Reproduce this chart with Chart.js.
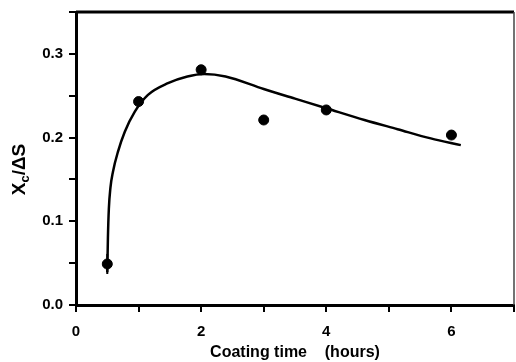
<!DOCTYPE html>
<html>
<head>
<meta charset="utf-8">
<script src="https://cdn.jsdelivr.net/npm/chart.js@4"></script>
<style>
  html, body { margin: 0; padding: 0; background: #fff; }
  #wrap { width: 516px; height: 362px; }
</style>
</head>
<body>
<div id="wrap"><canvas id="chart" width="516" height="362"></canvas></div>
<script>
// measured points
const timeHours = [0.5, 1, 2, 3, 4, 6];
const ratioValues = [0.049, 0.243, 0.281, 0.221, 0.233, 0.203];
const ratioErrors = [0.012, 0, 0, 0, 0, 0];

// fitted curve
const fitHours = [0.5, 0.51, 0.525, 0.55, 0.59, 0.67, 0.78, 0.94, 1.15, 1.47, 1.78, 2.05, 2.39, 3.0, 3.5, 4.0, 4.61, 5.14, 5.67, 6.15];
const fitValues = [0.039, 0.08, 0.115, 0.14, 0.159, 0.183, 0.207, 0.231, 0.251, 0.265, 0.273, 0.276, 0.273, 0.258, 0.2465, 0.235, 0.221, 0.210, 0.199, 0.191];

const xTitle = 'Coating time    (hours)';
const fontFamily = '"Liberation Sans", Arial, sans-serif';

const ctx = document.getElementById('chart');

// error bars, frame and the y title (needs a subscript)
const extras = {
  id: 'extras',
  afterDatasetsDraw(chart) {
    const c = chart.ctx;
    const xs = chart.scales.x;
    const ys = chart.scales.y;
    c.save();
    c.strokeStyle = '#000';
    c.lineWidth = 2;
    timeHours.forEach((t, i) => {
      if (!ratioErrors[i]) return;
      const px = xs.getPixelForValue(t);
      c.beginPath();
      c.moveTo(px, ys.getPixelForValue(ratioValues[i] - ratioErrors[i]));
      c.lineTo(px, ys.getPixelForValue(ratioValues[i] + ratioErrors[i]));
      c.stroke();
    });
    c.restore();
  },
  afterDraw(chart) {
    const c = chart.ctx;
    const a = chart.chartArea;
    c.save();
    c.strokeStyle = '#000';
    c.lineWidth = 3;
    c.beginPath();
    c.moveTo(a.left, a.top);
    c.lineTo(a.right, a.top);
    c.stroke();
    c.strokeStyle = '#444';
    c.lineWidth = 1.5;
    c.beginPath();
    c.moveTo(a.right, a.top);
    c.lineTo(a.right, a.bottom);
    c.stroke();

    c.translate(25, (a.top + a.bottom) / 2 + 11);
    c.rotate(-Math.PI / 2);
    c.fillStyle = '#000';
    c.textBaseline = 'alphabetic';
    const big = 'bold 19px ' + fontFamily;
    const small = 'bold 13px ' + fontFamily;
    c.font = big;
    const w1 = c.measureText('X').width;
    const w3 = c.measureText('/ΔS').width;
    c.font = small;
    const w2 = c.measureText('c').width;
    let x0 = -(w1 + w2 + w3) / 2;
    c.font = big;
    c.fillText('X', x0, 0);
    c.font = small;
    c.fillText('c', x0 + w1, 4);
    c.font = big;
    c.fillText('/ΔS', x0 + w1 + w2, 0);
    c.restore();
  }
};

new Chart(ctx, {
  type: 'scatter',
  data: {
    datasets: [
      {
        label: 'data',
        data: timeHours.map((t, i) => ({ x: t, y: ratioValues[i] })),
        backgroundColor: '#000',
        borderColor: '#000',
        pointRadius: 5,
        pointHoverRadius: 5
      },
      {
        label: 'fit',
        data: fitHours.map((t, i) => ({ x: t, y: fitValues[i] })),
        showLine: true,
        borderColor: '#000',
        borderWidth: 2.5,
        pointRadius: 0,
        cubicInterpolationMode: 'monotone'
      }
    ]
  },
  plugins: [extras],
  options: {
    responsive: false,
    animation: false,
    layout: { autoPadding: false, padding: { top: 12, right: 2, left: 0, bottom: 0 } },
    plugins: {
      legend: { display: false },
      tooltip: { enabled: false }
    },
    scales: {
      x: {
        type: 'linear',
        min: 0,
        max: 7,
        border: { display: true, color: '#000', width: 3 },
        grid: { drawOnChartArea: false, drawTicks: true, tickLength: 7, color: '#000', lineWidth: 2 },
        ticks: {
          stepSize: 1,
          color: '#000',
          padding: 11,
          maxRotation: 0,
          autoSkip: false,
          font: { family: fontFamily, size: 15, weight: 'bold' },
          callback: (v) => (v % 2 === 0 && v < 7 ? String(v) : '')
        },
        title: {
          display: true,
          text: xTitle,
          color: '#000',
          padding: { top: 0, bottom: 0 },
          font: { family: fontFamily, size: 16, weight: 'bold' }
        },
        afterFit: (s) => { s.height = 57; s.paddingRight = 0; s.paddingLeft = 0; }
      },
      y: {
        type: 'linear',
        min: 0,
        max: 0.35,
        border: { display: true, color: '#000', width: 3 },
        grid: { drawOnChartArea: false, drawTicks: true, tickLength: 7, color: '#000', lineWidth: 2 },
        ticks: {
          stepSize: 0.05,
          color: '#000',
          padding: 6,
          autoSkip: false,
          font: { family: fontFamily, size: 15, weight: 'bold' },
          callback: (v) => {
            const k = Math.round(v * 100);
            return k % 10 === 0 && k < 35 ? (k / 100).toFixed(1) : '';
          }
        },
        afterFit: (s) => { s.width = 76; s.paddingTop = 0; s.paddingBottom = 0; }
      }
    }
  }
});
</script>
</body>
</html>
